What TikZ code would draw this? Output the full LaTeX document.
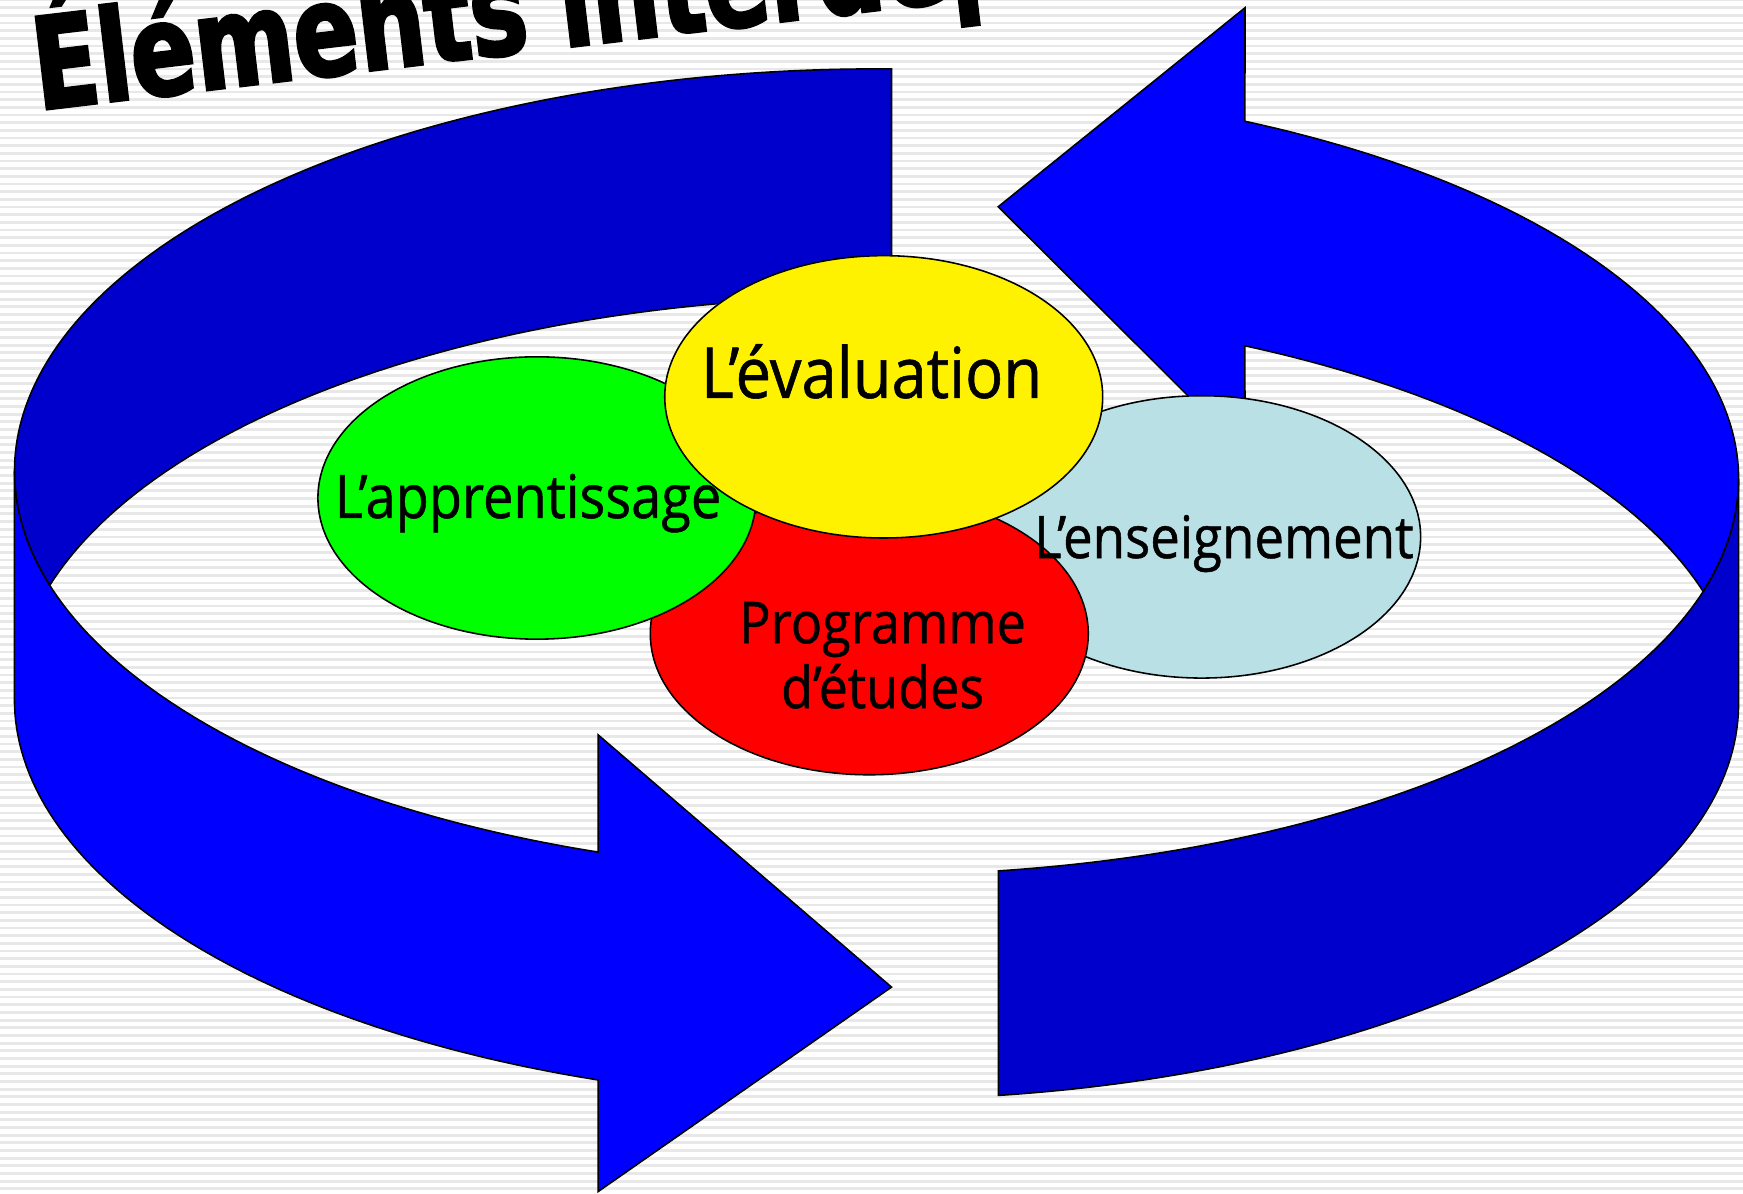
\documentclass[tikz,border=0pt]{standalone}
\usepackage{fontspec}
\usepackage{xcolor}
\usepackage{tikz}
\usetikzlibrary{positioning, shapes.geometric, calc}
\setmainfont{Open Sans}
\newfontfamily\lblfont[FakeStretch=0.9, FakeBold=0.8]{Open Sans}
\newfontfamily\titlefont[FakeStretch=0.75, FakeBold=2.5]{DejaVu Sans}

\definecolor{bandfront}{RGB}{0,0,255}
\definecolor{bandback}{RGB}{0,0,204}
\definecolor{ensblue}{RGB}{185,224,228}
\definecolor{stripegray}{RGB}{232,232,232}

\begin{document}
\begin{tikzpicture}[x=0.1mm, y=-0.1mm,
	band/.style={draw=black, line width=0.4pt, line join=miter},
	bubble/.style={ellipse, draw=black, line width=0.4pt, minimum width=39.4mm, minimum height=25.4mm, inner sep=0pt},
	lbl/.style={inner sep=0pt, anchor=base}]

		\useasboundingbox (0,0) rectangle (1568,1074);
		\clip (0,0) rectangle (1568,1074);

		% Background stripes
		\foreach \k in {0,...,156}
			\draw[stripegray, line width=0.25mm] (0,\k*6.9) -- (1568,\k*6.9);

		% Title
		\node[font={\fontsize{32.5}{36}\titlefont\bfseries}, rotate=6.8, anchor=base west, inner sep=0pt] (title) at (34,99) {Éléments interdépendants};

		% Ring centres (top and bottom rims)
		\coordinate (cl) at (789,424);
		\coordinate (cl2) at (789,629);
		\coordinate (cr) at (789,431);
		\coordinate (cr2) at (789,633);

		% Back faces
		\path[band, fill=bandback] ($(cl)+(270.96:776 and 362)$)
			arc[start angle=270.96, end angle=163.55, x radius=776, y radius=362]
			-- ($(cl2)+(196.45:776 and 362)$)
			arc[start angle=196.45, end angle=270.96, x radius=776, y radius=362] -- cycle;
		\path[band, fill=bandfront] ($(cr)+(16.48:775 and 356)$)
			arc[start angle=16.48, end angle=-64.72, x radius=775, y radius=356]
			-- (1120,7) -- (898,186) -- (1120,407)
			-- ($(cr2)+(-64.72:775 and 356)$)
			arc[start angle=-64.72, end angle=-16.48, x radius=775, y radius=356] -- cycle;

		% Front faces
		\path[band, fill=bandfront] ($(cl)+(180:776 and 362)$) -- ($(cl2)+(180:776 and 362)$)
			arc[start angle=180, end angle=108.87, x radius=776, y radius=362]
			-- (538,1072) -- (802,888) -- (538,661)
			-- ($(cl)+(108.87:776 and 362)$)
			arc[start angle=108.87, end angle=180, x radius=776, y radius=362] -- cycle;
		\path[band, fill=bandback] ($(cr)+(81.91:775 and 356)$)
			arc[start angle=81.91, end angle=0, x radius=775, y radius=356]
			-- ($(cr2)+(0:775 and 356)$)
			arc[start angle=0, end angle=81.91, x radius=775, y radius=356] -- cycle;

		% Nodes
		\node[bubble, fill=ensblue] (ens) at (1081,483) {};
		\node[bubble, fill=red] (prog) at (782,570) {};
		\node[bubble, fill=green] (appr) at (483,448) {};
		\node[bubble, fill=yellow] (eval) at (795,357) {};

		% Labels
		\node[lbl, font={\fontsize{18}{20}\lblfont}] (evaltxt) at (784,358) {L’évaluation};
		\node[lbl, font={\fontsize{15.4}{17}\lblfont}] (apprtxt) at (475,466) {L’apprentissage};
		\node[lbl, font={\fontsize{15}{17}\lblfont}] (enstxt) at (1101,502) {L’enseignement};
		\node[lbl, font={\fontsize{14.8}{16.6}\lblfont}, align=center] (progtxt) at (794,637) {Programme\\d’études};

\end{tikzpicture}
\end{document}
